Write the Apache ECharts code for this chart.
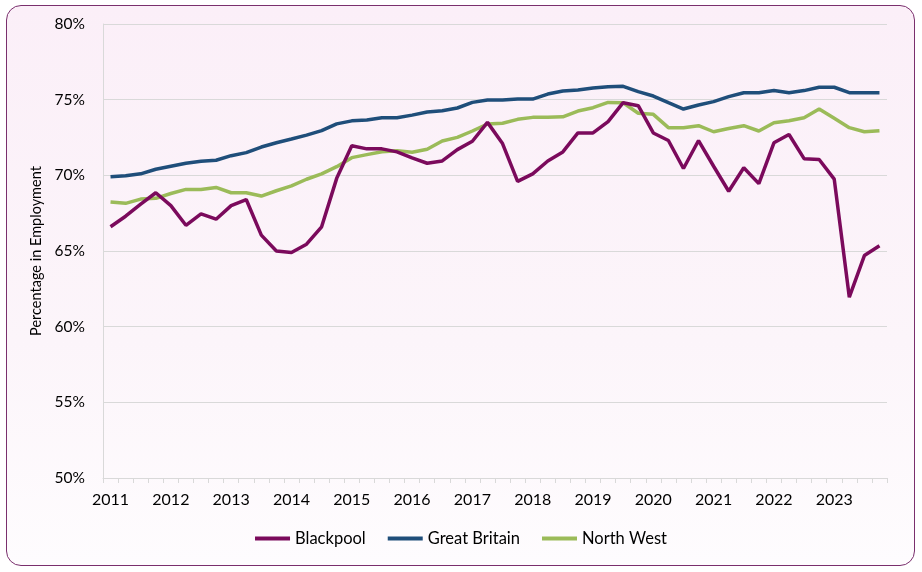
<!DOCTYPE html>
<html>
<head>
<meta charset="utf-8">
<script src="https://cdn.jsdelivr.net/npm/echarts@6/dist/echarts.min.js"></script>
<style>
  html, body { margin: 0; padding: 0; background: #ffffff; }
  #wrap { position: relative; width: 922px; height: 572px; overflow: hidden; }
  #frame {
    position: absolute; left: 6px; top: 5px; width: 907px; height: 559px;
    border: 1.5px solid #7a2f6d; border-radius: 15px;
    background: linear-gradient(to bottom, #fbeff8 0%, #fcf5fa 60%, #fefcfe 100%);
  }
  #chart { position: absolute; left: 0; top: 0; width: 922px; height: 572px; }
</style>
</head>
<body>
<div id="wrap">
  <div id="frame"></div>
  <div id="chart"></div>
</div>
<script>
// ---- data ----
const years = [2011, 2012, 2013, 2014, 2015, 2016, 2017, 2018, 2019, 2020, 2021, 2022, 2023];
const quarters = ['Q1', 'Q2', 'Q3', 'Q4'];
const seriesNames = ['Blackpool', 'Great Britain', 'North West'];

const blackpool = [
  66.6, 67.3, 68.1, 68.85, 68.0, 66.7, 67.45, 67.1, 68.0, 68.4, 66.05, 65.0, 64.9, 65.45, 66.6, 69.8,
  71.95, 71.75, 71.75, 71.55, 71.15, 70.8, 70.95, 71.7, 72.25, 73.5, 72.1, 69.6, 70.1, 70.95, 71.55, 72.8,
  72.8, 73.55, 74.8, 74.6, 72.8, 72.3, 70.45, 72.3, 70.6, 68.95, 70.5, 69.45, 72.15, 72.7, 71.1, 71.05,
  69.75, 61.95, 64.7, 65.35
];
const greatBritain = [
  69.9, 69.97, 70.1, 70.4, 70.6, 70.8, 70.93, 71.0, 71.3, 71.5, 71.87, 72.15, 72.4, 72.66, 72.95, 73.4,
  73.6, 73.65, 73.8, 73.8, 73.98, 74.18, 74.27, 74.45, 74.82, 74.98, 74.98, 75.04, 75.04, 75.37, 75.57, 75.64,
  75.77, 75.86, 75.88, 75.53, 75.24, 74.8, 74.38, 74.65, 74.87, 75.2, 75.46, 75.46, 75.6, 75.46, 75.6, 75.82,
  75.82, 75.46, 75.46, 75.46
];
const northWest = [
  68.24, 68.15, 68.43, 68.48, 68.8, 69.07, 69.07, 69.2, 68.85, 68.85, 68.63, 68.98, 69.3, 69.74, 70.1, 70.57,
  71.17, 71.37, 71.56, 71.63, 71.52, 71.72, 72.27, 72.51, 72.93, 73.39, 73.44, 73.7, 73.83, 73.83, 73.87, 74.25,
  74.47, 74.82, 74.8, 74.1, 74.03, 73.15, 73.15, 73.28, 72.88, 73.1, 73.28, 72.93, 73.48, 73.61, 73.81, 74.38,
  73.77, 73.15, 72.88, 72.95
];
const yTicks = { min: 50, max: 80, interval: 5 };

const categories = [];
years.forEach(y => quarters.forEach(q => categories.push(y + ' ' + q)));

const colors = ['#7b0a5c', '#1f4e7a', '#9bbb59'];
const font = 'Lato, "Open Sans", sans-serif';

const chart = echarts.init(document.getElementById('chart'), null, { renderer: 'canvas' });
chart.setOption({
  backgroundColor: 'transparent',
  animation: false,
  color: colors,
  grid: { left: 103, top: 24, right: 35, bottom: 94, containLabel: false },
  legend: {
    data: seriesNames,
    bottom: 20,
    left: 'center',
    icon: 'rect',
    itemWidth: 35,
    itemHeight: 4,
    itemGap: 22,
    textStyle: { fontFamily: font, fontSize: 16.5, color: '#000' }
  },
  xAxis: {
    type: 'category',
    data: categories,
    boundaryGap: true,
    axisLine: { show: true, lineStyle: { color: '#d9d9d9', width: 1 } },
    axisTick: { show: true, interval: 0, length: 5, lineStyle: { color: '#d9d9d9' } },
    axisLabel: {
      interval: 3,
      margin: 14,
      fontFamily: font,
      fontSize: 16,
      color: '#000',
      formatter: v => v.split(' ')[0]
    },
    splitLine: { show: false }
  },
  yAxis: {
    type: 'value',
    min: yTicks.min,
    max: yTicks.max,
    interval: yTicks.interval,
    name: 'Percentage in Employment',
    nameLocation: 'middle',
    nameGap: 57,
    nameTextStyle: { fontFamily: font, fontSize: 14.5, color: '#000' },
    axisLine: { show: true, lineStyle: { color: '#d9d9d9', width: 1 } },
    axisTick: { show: false },
    axisLabel: {
      margin: 18,
      fontFamily: font,
      fontSize: 15.5,
      color: '#000',
      formatter: '{value}%'
    },
    splitLine: { show: true, lineStyle: { color: '#d9d9d9', width: 1 } }
  },
  series: [
    { name: seriesNames[0], type: 'line', data: blackpool, showSymbol: false, symbol: 'none',
      lineStyle: { width: 3.5, color: colors[0] }, itemStyle: { color: colors[0] }, z: 3 },
    { name: seriesNames[1], type: 'line', data: greatBritain, showSymbol: false, symbol: 'none',
      lineStyle: { width: 3.5, color: colors[1] }, itemStyle: { color: colors[1] }, z: 2 },
    { name: seriesNames[2], type: 'line', data: northWest, showSymbol: false, symbol: 'none',
      lineStyle: { width: 3.5, color: colors[2] }, itemStyle: { color: colors[2] }, z: 1 }
  ]
});
</script>
</body>
</html>
